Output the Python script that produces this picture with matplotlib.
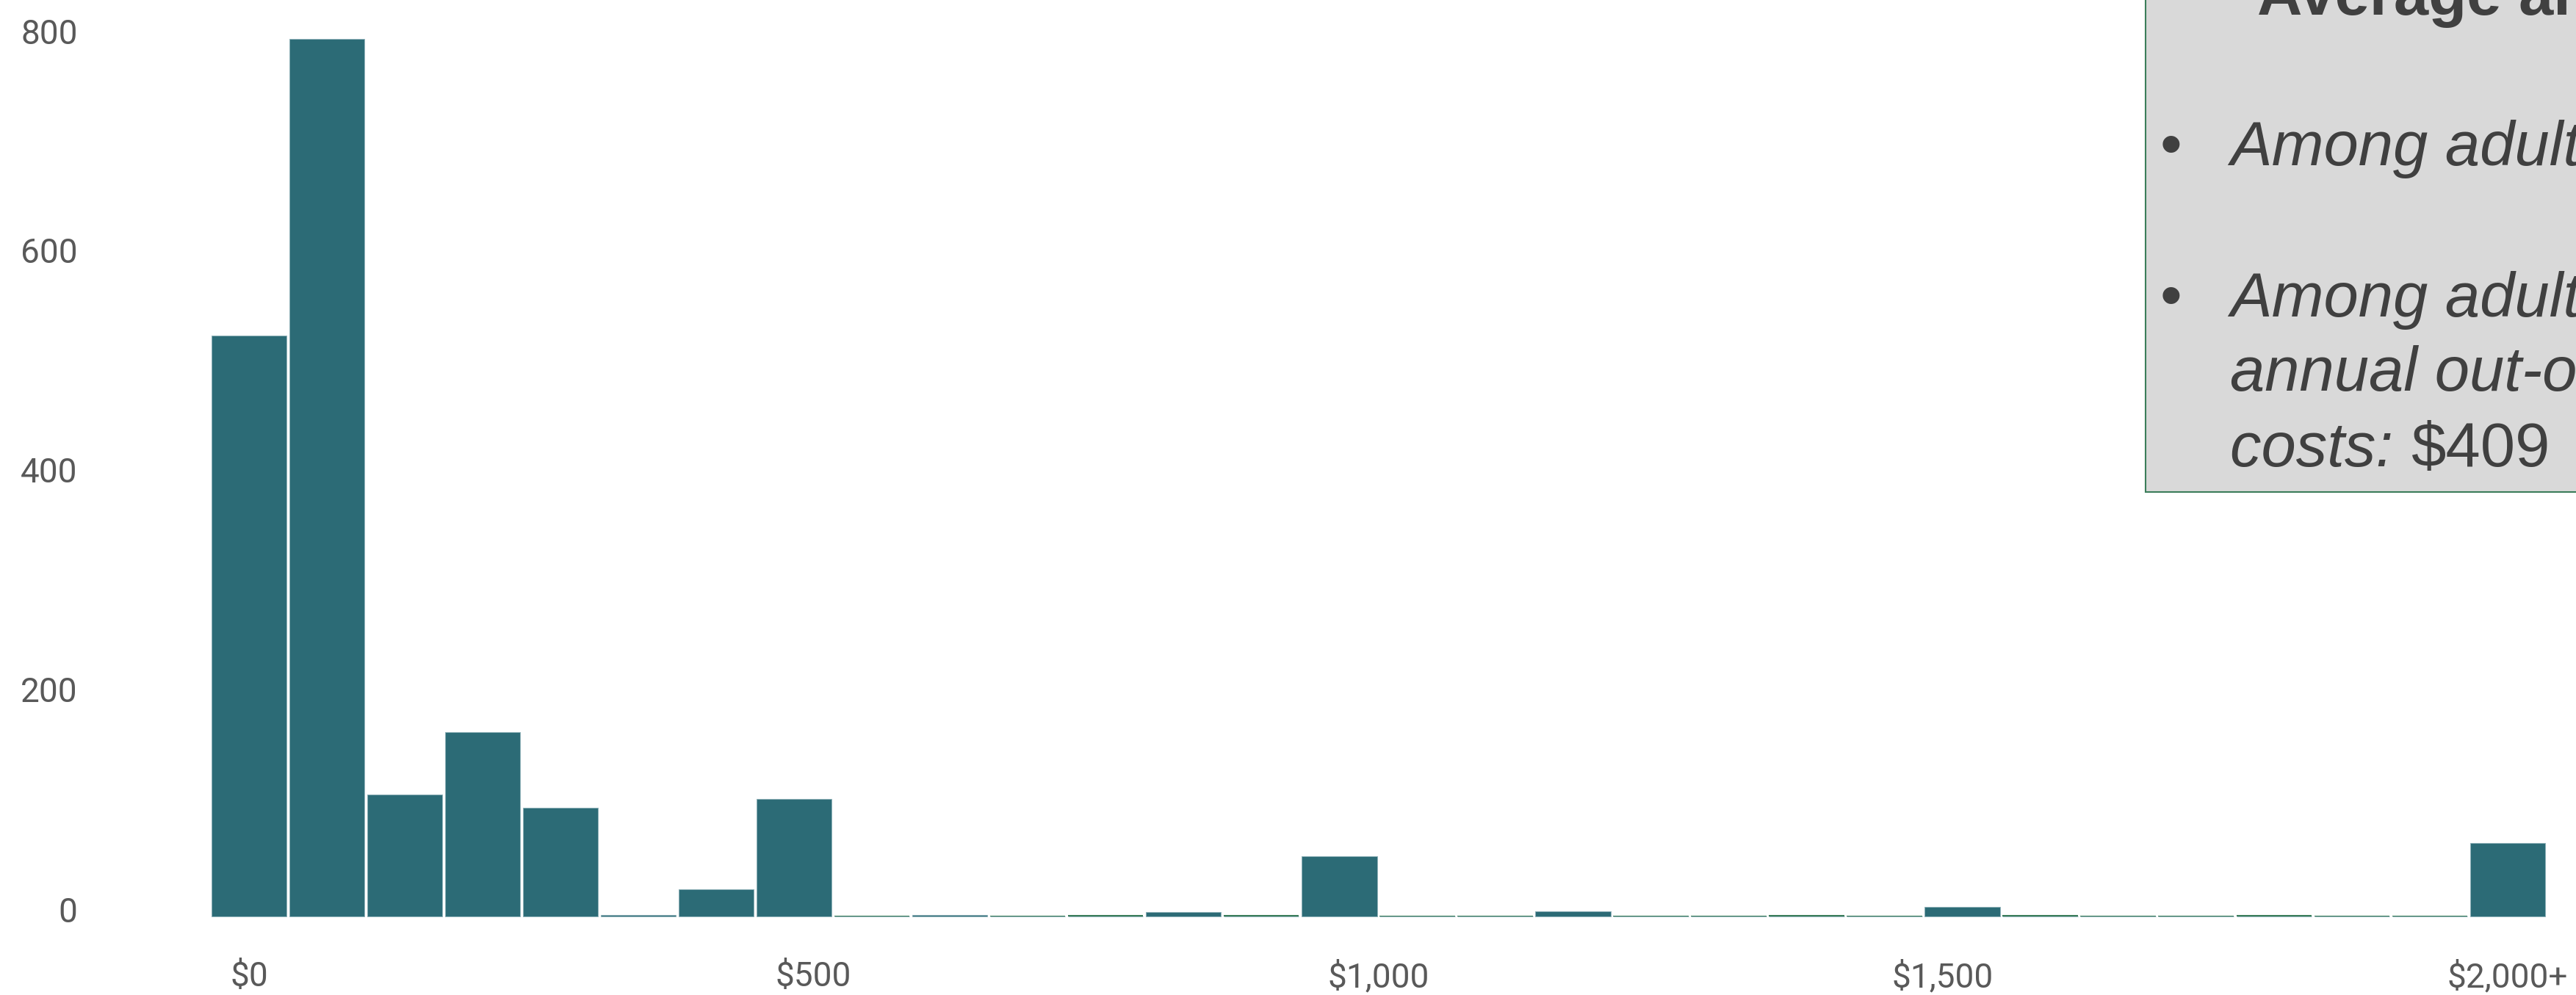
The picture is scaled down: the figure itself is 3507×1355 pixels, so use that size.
import matplotlib
matplotlib.use("Agg")
import matplotlib.pyplot as plt
from matplotlib.patches import Rectangle
from matplotlib.transforms import ScaledTranslation

# ---------------- data ----------------
n_bins = 30
bin_width = 2000 / 29          # first bin centred on $0, last on $2,000+
teal_counts = [529, 799, 111, 168, 99, 1.5, 25, 107, 0, 1.5,
               0, 0, 4, 0, 55, 0, 0, 5, 0, 0,
               0, 0, 9, 0, 0, 0, 0, 0, 0, 67]
green_counts = [0, 0, 0, 0, 0, 0, 0, 0, 0.8, 0,
                0.8, 1.5, 0, 1.5, 0, 0.8, 0.8, 0, 0.8, 0.8,
                1.5, 0.8, 0, 1.5, 0.8, 0.8, 1.5, 0.8, 0.8, 0]
x_ticks = [0, 500, 1000, 1500, 2000]
x_labels = ["\\$0", "\\$500", "\\$1,000", "\\$1,500", "\\$2,000+"]
y_ticks = [0, 200, 400, 600, 800]
y_labels = ["0", "200", "400", "600", "800"]

box_title = "Average annual out-of-pocket costs"
bullet1_lines = ["Among adults overall, average"]
bullet2_lines = ["Among adults with any costs, average",
                 "annual out-of-pocket"]
bullet2_last_italic = "costs:"
bullet2_last_value = "\\$409"

# ---------------- style ----------------
W, H, DPI = 3507, 1355, 300
TEAL = "#2c6b76"
TEAL_EDGE = "#8fb1b8"
GREEN = "#3b7d5a"
TICK_COL = "#595959"
TEXT_COL = "#404040"
BOX_FILL = "#d9d9d9"

fig = plt.figure(figsize=(W / DPI, H / DPI), dpi=DPI)
fig.patch.set_facecolor("white")

# axes geometry in pixels
x_left_px, x_right_px = 216, 3506
xlim = (-80, 2060)
zero_px = 1248          # y pixel (from top) of count 0
px_per_count = 1.495
ylim = (-3, zero_px / px_per_count)
ax_bottom_px = zero_px + 3 * px_per_count
ax = fig.add_axes([x_left_px / W, (H - ax_bottom_px) / H,
                   (x_right_px - x_left_px) / W, ax_bottom_px / H])
ax.set_xlim(*xlim)
ax.set_ylim(*ylim)
ax.set_facecolor("none")

centers = [i * bin_width for i in range(n_bins)]
ax.bar(centers, green_counts, width=bin_width * 0.965, color=GREEN,
       linewidth=0, zorder=1)
ax.bar(centers, teal_counts, width=bin_width * 0.965, color=TEAL,
       edgecolor=TEAL_EDGE, linewidth=0.25, zorder=2)

for s in ax.spines.values():
    s.set_visible(False)

ax.set_xticks(x_ticks)
ax.set_xticklabels(x_labels)
ax.set_yticks(y_ticks)
ax.set_yticklabels(y_labels)
ax.tick_params(axis="both", length=0, colors=TICK_COL, labelsize=11)
ax.tick_params(axis="x", pad=13.3)
ax.tick_params(axis="y", pad=26.5)
for lab in ax.get_xticklabels() + ax.get_yticklabels():
    lab.set_fontfamily("Roboto")
    lab.set_color(TICK_COL)
off = ScaledTranslation(0, 10 / DPI, fig.dpi_scale_trans)
for lab in ax.get_yticklabels():
    lab.set_transform(lab.get_transform() + off)

# ---------------- text box (extends past figure edge) ----------------
def fx(px):
    return px / W

def fy(py):
    return 1 - py / H

box_left, box_bottom = 2921, 670
rect = Rectangle((fx(box_left), fy(box_bottom)), 0.2, fy(box_bottom) - fy(-100),
                 transform=fig.transFigure, facecolor=BOX_FILL,
                 edgecolor=GREEN, linewidth=0.5, zorder=5)
rect.set_height(1.2)
fig.patches.append(rect)

FS = 20.4
FAM = "Liberation Sans"
fig.text(fx(3073), fy(20), box_title, fontsize=FS, fontweight="bold",
         family=FAM, color=TEXT_COL, ha="left", va="baseline", zorder=6)

bullet_x, text_x = 2956, 3036
line1_base = 224.6
fig.text(fx(bullet_x), fy(line1_base), "\u2022", fontsize=FS, family=FAM,
         color=TEXT_COL, ha="center", va="baseline", zorder=6)
fig.text(fx(text_x), fy(line1_base), bullet1_lines[0], fontsize=FS,
         family=FAM, style="italic", color=TEXT_COL, ha="left",
         va="baseline", zorder=6)

b2_bases = [430.6, 532.5, 635.0]
fig.text(fx(bullet_x), fy(b2_bases[0]), "\u2022", fontsize=FS, family=FAM,
         color=TEXT_COL, ha="center", va="baseline", zorder=6)
for base, line in zip(b2_bases[:2], bullet2_lines):
    fig.text(fx(text_x), fy(base), line, fontsize=FS, family=FAM,
             style="italic", color=TEXT_COL, ha="left", va="baseline",
             zorder=6)
t_it = fig.text(fx(text_x), fy(b2_bases[2]), bullet2_last_italic + " ",
                fontsize=FS, family=FAM, style="italic", color=TEXT_COL,
                ha="left", va="baseline", zorder=6)
fig.canvas.draw()
bb = t_it.get_window_extent()
fig.text(bb.x1 / W, fy(b2_bases[2]), bullet2_last_value, fontsize=FS,
         family=FAM, color=TEXT_COL, ha="left", va="baseline", zorder=6)

fig.savefig("out.png", dpi=DPI)
